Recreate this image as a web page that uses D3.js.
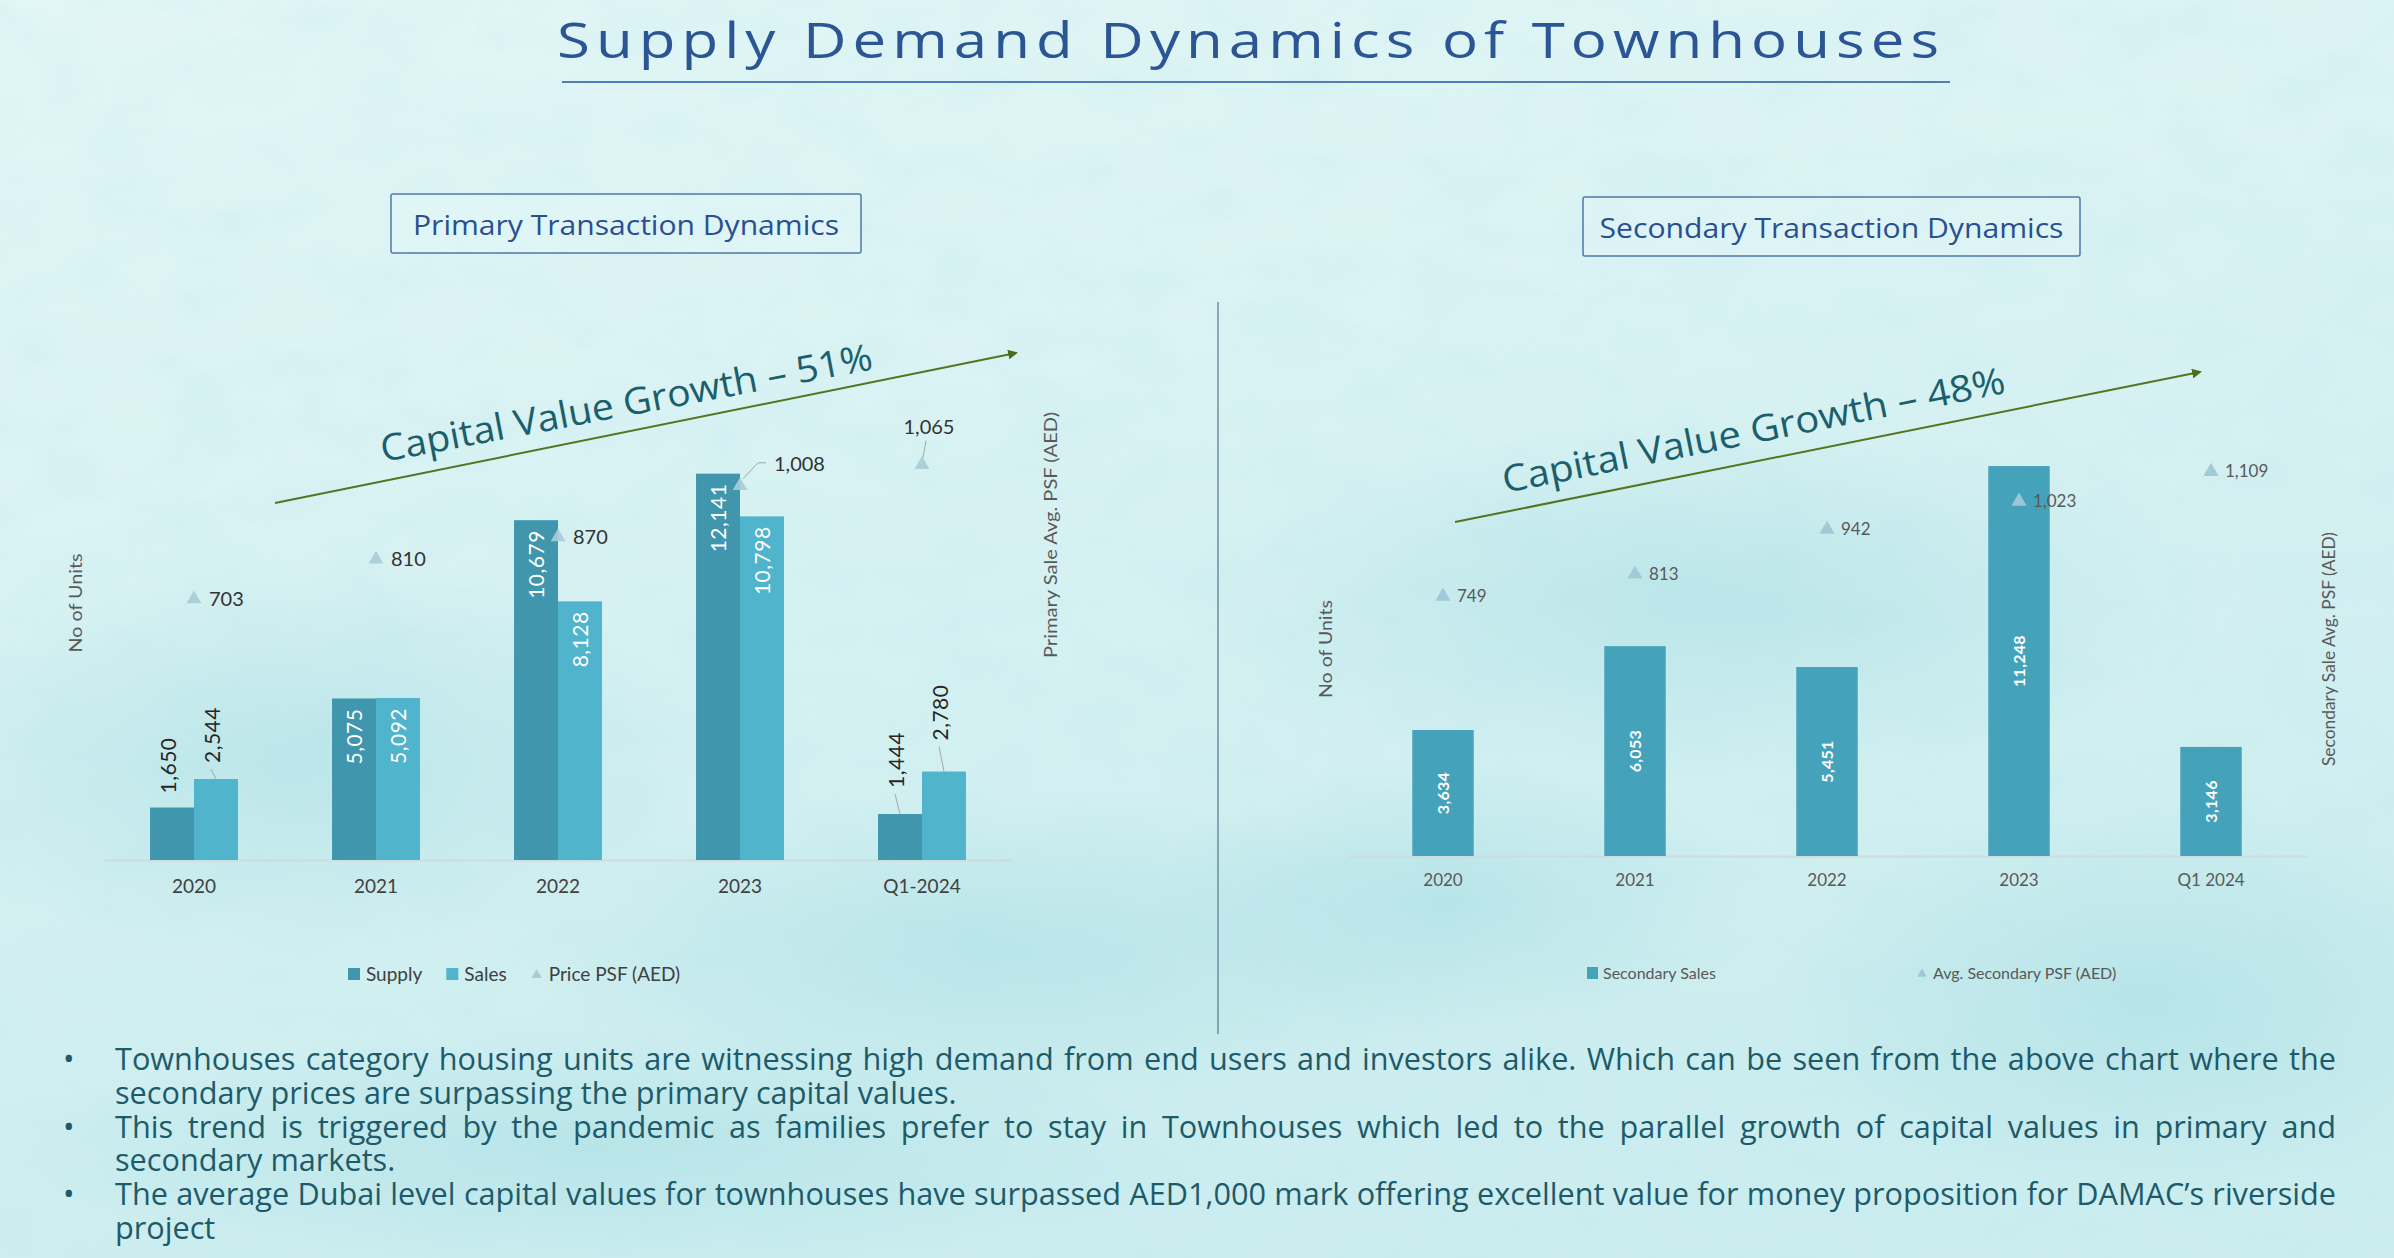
<!DOCTYPE html>
<html><head><meta charset="utf-8">
<script src="https://cdn.jsdelivr.net/npm/d3@7"></script>
<style>html,body{margin:0;padding:0;overflow:hidden;background:#dcf3f4}</style>
</head><body>
<svg id="c" width="2394" height="1258" xmlns="http://www.w3.org/2000/svg"></svg>
<script>
// ---------------- DATA ----------------
const primaryCategories = ["2020", "2021", "2022", "2023", "Q1-2024"];
const primarySupply = [1650, 5075, 10679, 12141, 1444];
const primarySales = [2544, 5092, 8128, 10798, 2780];
const primaryPricePSF = [703, 810, 870, 1008, 1065];

const secondaryCategories = ["2020", "2021", "2022", "2023", "Q1 2024"];
const secondarySales = [3634, 6053, 5451, 11248, 3146];
const secondaryPricePSF = [749, 813, 942, 1023, 1109];

const primaryGrowthText = "Capital Value Growth – 51%";
const secondaryGrowthText = "Capital Value Growth – 48%";

const bulletParagraphs = [
  ["Townhouses category housing units are witnessing high demand from end users and investors alike. Which can be seen from the above chart where the",
   "secondary prices are surpassing the primary capital values."],
  ["This trend is triggered by the pandemic as families prefer to stay in Townhouses which led to the parallel growth of capital values in primary and",
   "secondary markets."],
  ["The average Dubai level capital values for townhouses have surpassed AED1,000 mark offering excellent value for money proposition for DAMAC’s riverside",
   "project"]
];

// ---------------- STYLE / LAYOUT ----------------
const LABEL_FONT = "Lato, 'Open Sans', sans-serif";
const HEAD_FONT = "'Open Sans', 'Noto Sans', sans-serif";
const colSupply = "#3f96ad", colSales = "#4fb4cc", colSec = "#45a2bb", colTri = "#a9cbd7";
const fmt = d3.format(",");

const svg = d3.select("#c");
const defs = svg.append("defs");

// background
const bg = defs.append("linearGradient").attr("id","bgGrad").attr("x1",0).attr("y1",0).attr("x2",0.3).attr("y2",1);
bg.append("stop").attr("offset","0%").attr("stop-color","#e2f6f6");
bg.append("stop").attr("offset","55%").attr("stop-color","#d6f1f2");
bg.append("stop").attr("offset","100%").attr("stop-color","#cbedef");
const blob = defs.append("radialGradient").attr("id","blob");
blob.append("stop").attr("offset","0%").attr("stop-color","#a6dde3").attr("stop-opacity",0.55);
blob.append("stop").attr("offset","100%").attr("stop-color","#a6dde3").attr("stop-opacity",0);
const noise = defs.append("filter").attr("id","noise").attr("x",0).attr("y",0).attr("width","100%").attr("height","100%");
noise.append("feTurbulence").attr("type","fractalNoise").attr("baseFrequency","0.012 0.02").attr("numOctaves",4).attr("seed",7).attr("result","t");
noise.append("feColorMatrix").attr("type","matrix")
  .attr("values","0 0 0 0 0.55  0 0 0 0 0.82  0 0 0 0 0.85  0 0 0 -1.4 0.85");

svg.append("rect").attr("width",2394).attr("height",1258).attr("fill","url(#bgGrad)");
svg.append("rect").attr("width",2394).attr("height",1258).attr("filter","url(#noise)").attr("opacity",0.4);
[[300,760,420,200],[1000,950,500,160],[1700,600,520,180],[2150,1000,380,200],[600,1150,600,120],[1450,900,300,140]]
  .forEach(b => svg.append("ellipse").attr("cx",b[0]).attr("cy",b[1]).attr("rx",b[2]).attr("ry",b[3]).attr("fill","url(#blob)"));

// arrow marker
defs.append("marker").attr("id","arrow").attr("viewBox","0 0 10 10").attr("refX",8).attr("refY",5)
  .attr("markerWidth",5).attr("markerHeight",5).attr("orient","auto")
  .append("path").attr("d","M0,0 L10,5 L0,10 z").attr("fill","#4f6c1d");

// ---------------- TITLE ----------------
svg.append("text").attr("x",557).attr("y",58).attr("font-family",HEAD_FONT).attr("font-size",50)
  .attr("letter-spacing",5)
  .attr("fill","#2b5595").attr("textLength",1388).attr("lengthAdjust","spacingAndGlyphs").text("Supply Demand Dynamics of Townhouses");
svg.append("line").attr("x1",562).attr("x2",1950).attr("y1",82).attr("y2",82).attr("stroke","#4f80b3").attr("stroke-width",2);

// divider
svg.append("line").attr("x1",1218).attr("x2",1218).attr("y1",302).attr("y2",1034).attr("stroke","#6c8f9f").attr("stroke-width",1.5);

// boxed subtitles
function box(x, y, w, h, txt, len){
  svg.append("rect").attr("x",x).attr("y",y).attr("width",w).attr("height",h).attr("rx",2)
    .attr("fill","rgba(235,250,250,0.25)").attr("stroke","#5078a8").attr("stroke-width",1.5);
  svg.append("text").attr("x",x+w/2).attr("y",y+h/2+1).attr("text-anchor","middle").attr("dominant-baseline","central")
    .attr("font-family",HEAD_FONT).attr("font-size",27).attr("fill","#2a4f91")
    .attr("textLength",len).attr("lengthAdjust","spacingAndGlyphs").text(txt);
}
box(391,194,470,59,"Primary Transaction Dynamics",426);
box(1583,197,497,59,"Secondary Transaction Dynamics",464);

// growth arrows
function growth(x1,y1,x2,y2, tx,ty,ang,len,txt){
  svg.append("line").attr("x1",x1).attr("y1",y1).attr("x2",x2).attr("y2",y2)
    .attr("stroke","#55741f").attr("stroke-width",2).attr("marker-end","url(#arrow)");
  svg.append("text").attr("transform",`translate(${tx},${ty}) rotate(${-ang})`)
    .attr("font-family",HEAD_FONT).attr("font-size",37).attr("fill","#1b5f6d")
    .attr("textLength",len).attr("lengthAdjust","spacingAndGlyphs").text(txt);
}

// ---------------- PRIMARY CHART ----------------
const x = d3.scaleBand().domain(primaryCategories).range([103,1013]);
const xs = d3.scaleBand().domain(["Supply","Sales"]).range([0,x.bandwidth()]).paddingOuter(1.07);
const y = d3.scaleLinear().domain([0,14000]).range([860,414.5]);
const y2 = d3.scaleLinear().domain([0,1200]).range([860,414.5]);

const gP = svg.append("g");
const axP = gP.append("g").attr("transform","translate(0,860)")
  .call(d3.axisBottom(x).tickSize(0).tickPadding(20).tickSizeOuter(0));
axP.select(".domain").attr("stroke","#cddcdd").attr("stroke-width",2);
axP.selectAll("text").attr("font-family",LABEL_FONT).attr("font-size",19).attr("fill","#404040");

const primSeries = [{key:"Supply", vals:primarySupply, col:colSupply},{key:"Sales", vals:primarySales, col:colSales}];
// outside-label gaps (style): supply / sales
const outsideGap = {Supply:[14,0,0,0,26], Sales:[16,0,0,0,31]};
primSeries.forEach(s => {
  const g = gP.append("g");
  g.selectAll("rect").data(s.vals).join("rect")
    .attr("x",(d,i)=>x(primaryCategories[i])+xs(s.key)).attr("width",xs.bandwidth())
    .attr("y",d=>y(d)).attr("height",d=>860-y(d)).attr("fill",s.col);
  s.vals.forEach((d,i)=>{
    const cx = x(primaryCategories[i])+xs(s.key)+xs.bandwidth()/2;
    const top = y(d);
    const inside = d > 4000;
    if (inside){
      g.append("text").attr("transform",`translate(${cx},${top+10}) rotate(-90)`).attr("text-anchor","end")
        .attr("dy","0.36em").attr("font-family",LABEL_FONT).attr("font-size",21).attr("fill","#ffffff").attr("letter-spacing",0.5).text(fmt(d));
    } else {
      const gap = outsideGap[s.key][i];
      const lx = cx - 4;
      if (gap > 15){
        g.append("line").attr("x1",lx-1).attr("y1",top-gap+6).attr("x2",cx).attr("y2",top)
          .attr("stroke","#a6a6a6").attr("stroke-width",1);
      }
      g.append("text").attr("transform",`translate(${lx},${top-gap}) rotate(-90)`).attr("text-anchor","start")
        .attr("dy","0.36em").attr("font-family",LABEL_FONT).attr("font-size",21).attr("fill","#262626").attr("letter-spacing",0.5).text(fmt(d));
    }
  });
});

// price triangles
const tri = d3.symbol().type(d3.symbolTriangle).size(95);
const primPlacement = ["right","right","right","leader","above"];
gP.selectAll("path.tri").data(primaryPricePSF).join("path").attr("class","tri")
  .attr("transform",(d,i)=>`translate(${x(primaryCategories[i])+x.bandwidth()/2},${y2(d)})`)
  .attr("d",tri).attr("fill",colTri).attr("opacity",0.9);
primaryPricePSF.forEach((d,i)=>{
  const cx = x(primaryCategories[i])+x.bandwidth()/2, cy = y2(d);
  const p = primPlacement[i];
  const t = gP.append("text").attr("font-family",LABEL_FONT).attr("font-size",20).attr("fill","#333").attr("dy","0.35em");
  if (p==="right"){ t.attr("x",cx+15).attr("y",cy).text(fmt(d)); }
  else if (p==="leader"){
    gP.append("path").attr("d",`M${cx+3},${cy-7} L${cx+18},${cy-23} L${cx+26},${cy-23}`).attr("fill","none").attr("stroke","#a6a6a6");
    t.attr("x",cx+34).attr("y",cy-22).text(fmt(d));
  } else {
    gP.append("line").attr("x1",cx+1).attr("y1",cy-7).attr("x2",cx+4).attr("y2",cy-24).attr("stroke","#a6a6a6");
    t.attr("x",cx+7).attr("y",cy-38).attr("text-anchor","middle").text(fmt(d));
  }
});

// axis titles
function vTitle(cx, cy, txt, len){
  svg.append("text").attr("transform",`translate(${cx},${cy}) rotate(-90)`).attr("text-anchor","middle").attr("dominant-baseline","central")
    .attr("font-family",LABEL_FONT).attr("font-size",17).attr("fill","#595959")
    .attr("textLength",len).attr("lengthAdjust","spacingAndGlyphs").text(txt);
}
vTitle(75,603,"No of Units",99);
vTitle(1050,535,"Primary Sale Avg. PSF (AED)",246);

// legend primary
(function(){
  const g = svg.append("g").attr("font-family",LABEL_FONT).attr("font-size",19).attr("fill","#404040");
  let lx = 348; const ly = 974;
  [{k:"Supply",c:colSupply,t:"sq"},{k:"Sales",c:colSales,t:"sq"},{k:"Price PSF (AED)",c:colTri,t:"tri"}].forEach(it=>{
    if (it.t==="sq") g.append("rect").attr("x",lx).attr("y",ly-6).attr("width",12).attr("height",12).attr("fill",it.c);
    else g.append("path").attr("transform",`translate(${lx+6},${ly+1})`).attr("d",d3.symbol().type(d3.symbolTriangle).size(45)).attr("fill",it.c);
    const t = g.append("text").attr("x",lx+18).attr("y",ly).attr("dy","0.35em").text(it.k);
    lx += 18 + t.node().getComputedTextLength() + 24;
  });
})();

growth(275,503,1016,353, 383,462,10.7,500, primaryGrowthText);

// ---------------- SECONDARY CHART ----------------
const xR = d3.scaleBand().domain(secondaryCategories).range([1347,2307]).paddingInner(0.68).paddingOuter(0.34);
const yR = d3.scaleLinear().domain([0,12000]).range([856,440]);
const yR2 = d3.scaleLinear().domain([0,1200]).range([856,440]);
const gS = svg.append("g");
const axS = gS.append("g").attr("transform","translate(0,856)")
  .call(d3.axisBottom(xR).tickSize(0).tickPadding(18).tickSizeOuter(0));
axS.select(".domain").attr("stroke","#cddcdd").attr("stroke-width",2);
axS.selectAll("text").attr("font-family",LABEL_FONT).attr("font-size",17).attr("fill","#595959");

gS.selectAll("rect.bar").data(secondarySales).join("rect").attr("class","bar")
  .attr("x",(d,i)=>xR(secondaryCategories[i])).attr("width",xR.bandwidth())
  .attr("y",d=>yR(d)).attr("height",d=>856-yR(d)).attr("fill",colSec);
gS.selectAll("text.val").data(secondarySales).join("text").attr("class","val")
  .attr("transform",(d,i)=>`translate(${xR(secondaryCategories[i])+xR.bandwidth()/2},${(yR(d)+856)/2}) rotate(-90)`)
  .attr("text-anchor","middle").attr("dy","0.36em").attr("font-family",LABEL_FONT).attr("font-weight",700)
  .attr("font-size",16).attr("fill","#ffffff").attr("letter-spacing",0.3).text(d=>fmt(d));

const triR = d3.symbol().type(d3.symbolTriangle).size(100);
gS.selectAll("path.tri").data(secondaryPricePSF).join("path").attr("class","tri")
  .attr("transform",(d,i)=>`translate(${xR(secondaryCategories[i])+xR.bandwidth()/2},${yR2(d)})`)
  .attr("d",triR).attr("fill","#9fc8d6").attr("opacity",0.95);
gS.selectAll("text.psf").data(secondaryPricePSF).join("text").attr("class","psf")
  .attr("x",(d,i)=>xR(secondaryCategories[i])+xR.bandwidth()/2+14).attr("y",d=>yR2(d)).attr("dy","0.35em")
  .attr("font-family",LABEL_FONT).attr("font-size",17).attr("fill","#595959").text(d=>fmt(d));

vTitle(1325,649,"No of Units",98);
vTitle(2328,649,"Secondary Sale Avg. PSF (AED)",234);

(function(){
  const g = svg.append("g").attr("font-family",LABEL_FONT).attr("font-size",16).attr("fill","#595959");
  const ly = 973;
  g.append("rect").attr("x",1587).attr("y",ly-6).attr("width",11).attr("height",12).attr("fill",colSec);
  g.append("text").attr("x",1603).attr("y",ly).attr("dy","0.35em").text("Secondary Sales");
  g.append("path").attr("transform",`translate(1922,${ly+1})`).attr("d",d3.symbol().type(d3.symbolTriangle).size(40)).attr("fill","#9fc8d6");
  g.append("text").attr("x",1933).attr("y",ly).attr("dy","0.35em").text("Avg. Secondary PSF (AED)");
})();

growth(1455,522,2200,372, 1505,493,11.3,512, secondaryGrowthText);

// ---------------- BULLETS ----------------
(function(){
  const g = svg.append("g").attr("font-family",HEAD_FONT).attr("fill","#1e5b6a");
  const left = 115, right = 2336, target = right-left;
  let fs = 28;
  // calibrate font size on a known short line width
  const probe = g.append("text").attr("font-size",fs).text(bulletParagraphs[0][1]);
  const w = probe.node().getComputedTextLength();
  fs = fs * 842 / w; probe.remove();
  const body = g.append("text").attr("font-size",fs);
  const dots = g.append("text").attr("font-size",fs);
  let line = 0;
  bulletParagraphs.forEach(par=>{
    dots.append("tspan").attr("x",63).attr("y",1070 + line*33.8).text("•");
    par.forEach((ln,j)=>{
      const t = body.append("tspan").attr("x",left).attr("y",1070+line*33.8).text(ln);
      if (j < par.length-1){
        const nat = t.node().getComputedTextLength();
        const spaces = (ln.match(/ /g)||[]).length;
        t.attr("word-spacing",(target-nat)/spaces);
      }
      line++;
    });
  });
})();
</script>
</body></html>
